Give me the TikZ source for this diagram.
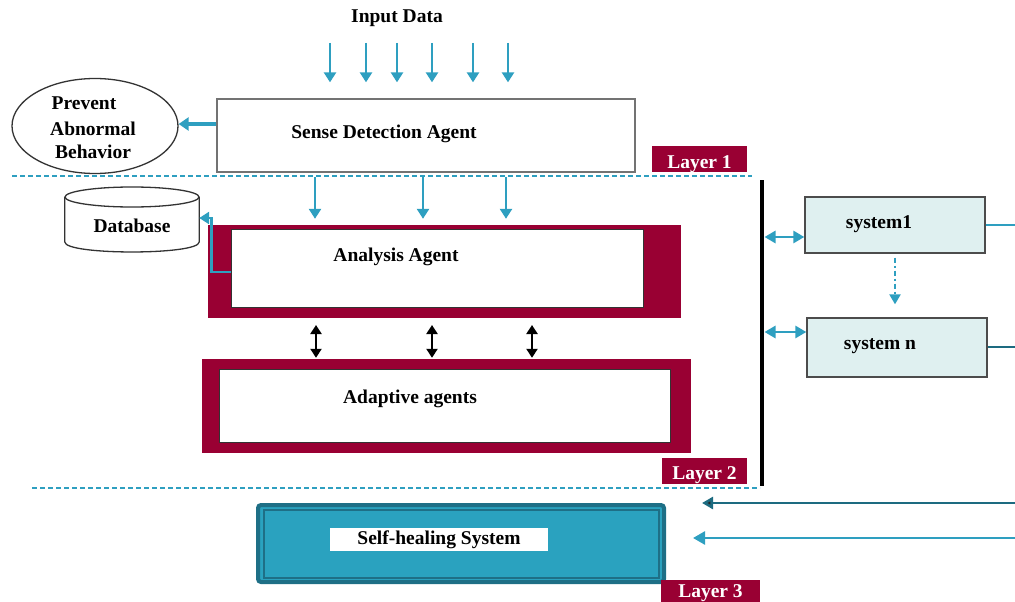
\documentclass[tikz,border=0pt]{standalone}
\usepackage{fontspec}
\setmainfont{Liberation Serif}
\usetikzlibrary{arrows.meta,shapes.geometric,calc}
\definecolor{flowteal}{HTML}{2E9FC0}
\definecolor{crim}{HTML}{990033}
\definecolor{healfill}{HTML}{2AA2BF}
\definecolor{healedge}{HTML}{1E6F86}
\definecolor{darkteal}{HTML}{1D6B80}
\definecolor{sysfill}{HTML}{DFF0F0}

\begin{document}
\begin{tikzpicture}[x=1pt,y=-1pt,
  txt/.style={font=\fontsize{19.5}{22}\selectfont\bfseries, inner sep=0pt},
  layertag/.style={fill=crim, text=white, inner sep=0pt, font=\fontsize{19.5}{22}\selectfont\bfseries, text depth=0pt},
  flow/.style={draw=flowteal, line width=2.5pt, -{Triangle[width=12pt,length=10pt]}},
  sideflow/.style={draw=flowteal, line width=3.2pt, -{Triangle[width=13pt,length=10pt]}},
  twoway/.style={draw=black, line width=2.2pt, {Triangle[width=11pt,length=9pt]}-{Triangle[width=11pt,length=9pt]}},
  busflow/.style={draw=flowteal, line width=2.8pt, {Triangle[width=12pt,length=11pt]}-{Triangle[width=12pt,length=11pt]}},
  sepline/.style={draw=flowteal, line width=1.8pt, dash pattern=on 5pt off 3pt},
  outerbox/.style={fill=crim, inner sep=0pt},
  innerbox/.style={fill=white, draw=black!80, line width=1pt, inner sep=0pt},
  sysbox/.style={fill=sysfill, draw=black!70, line width=1.3pt, inner sep=0pt, minimum width=180},
]
\useasboundingbox (0,0) rectangle (1015,602);

% ---------- Layer 1 ----------
\node[txt] (inlabel) at (397,18) {Input Data};
\node[draw=black!55, line width=1.3pt, minimum width=418, minimum height=73, inner sep=0pt] (sense) at (426,135.5) {};
\node[txt] (sensetxt) at (384,134) {Sense Detection Agent};
\foreach \x [count=\i] in {330,366,397,432,473,508} {
  \coordinate (in\i) at (\x,43);
  \draw[flow] (in\i) -- (sense.north -| in\i) [shorten >=16pt];
}
\node[ellipse, draw=black!80, line width=1.3pt, minimum width=166, minimum height=95, inner sep=0pt] (prevent) at (95,126) {};
\node[txt] (pv1) at (84,103) {Prevent};
\node[txt] (pv2) at (93,129) {Abnormal};
\node[txt] (pv3) at (93,152) {Behavior};
\draw[sideflow] (sense.west |- 0,124) -- (prevent.east |- 0,124);

\node[layertag, minimum width=95, minimum height=26, text height=19pt] (layer1) at (699.5,159) {Layer 1};
\coordinate (sepAL) at (12,176);
\coordinate (sepAR) at (752,176);
\draw[sepline] (sepAL) -- (sepAR);

% ---------- Layer 2 ----------
% database drum
\node[minimum width=134, minimum height=65, inner sep=0pt] (db) at (132,219) {};
\draw[black!80, line width=1.3pt, fill=white]
  (db.west |- 0,197) -- (db.west |- 0,242)
  .. controls (65,255.3) and (199,255.3) .. (db.east |- 0,242) -- (db.east |- 0,197);
\draw[black!80, line width=1.3pt, fill=white] (132,197) ellipse [x radius=67, y radius=10];
\node[txt] (dbtxt) at (132,226) {Database};

\node[outerbox, minimum width=473, minimum height=93] (aout) at (444,271.5) {};
\node[innerbox, minimum width=412, minimum height=78] (ain) at (437,268) {};
\node[txt] (aintxt) at (396,257) {Analysis Agent};

\foreach \x [count=\i] in {315,423,506} {
  \coordinate (sd\i) at (\x,177);
  \draw[flow] (sd\i) -- (aout.north -| sd\i) [shorten >=6pt];
}
\draw[draw=flowteal, line width=2.6pt, -{Triangle[width=12pt,length=10pt]}]
  (ain.west |- 0,272) -- ++(-19,0) |- (db.east |- 0,218);

\node[outerbox, minimum width=489, minimum height=94] (adout) at (446.5,406) {};
\node[innerbox, minimum width=451, minimum height=73] (adin) at (444.5,405.5) {};
\node[txt] (adtxt) at (410,399) {Adaptive agents};

\foreach \x [count=\i] in {316,432,532} {
  \coordinate (tw\i) at (\x,325);
  \draw[twoway] (tw\i) -- (adout.north -| tw\i) [shorten >=1pt];
}

\node[layertag, minimum width=85, minimum height=26, text height=16pt] (layer2) at (704.5,471) {Layer 2};
\coordinate (sepBL) at (32,488);
\coordinate (sepBR) at (760,488);
\draw[sepline] (sepBL) -- (sepBR);

% ---------- bus and systems ----------
\coordinate (busT) at (762,180);
\coordinate (busB) at (762,486);
\draw[black, line width=3.5pt] (busT) -- (busB);

\node[sysbox, minimum height=56] (sys1) at (895,225) {};
\node[txt] (sys1txt) at (879,224) {system1};
\node[sysbox, minimum height=59] (sysn) at (897,347.5) {};
\node[txt] (sysntxt) at (880,346) {system n};

\draw[busflow] (busT |- 0,237) -- (sys1.west |- 0,237) [shorten <=2.5pt];
\draw[busflow] (busT |- 0,332) -- (sysn.west |- 0,332) [shorten <=2.5pt];
\draw[draw=flowteal, line width=2.2pt, dash pattern=on 5pt off 3pt on 2pt off 3pt,
      -{Triangle[width=11pt,length=10pt]}]
  (sys1.south) ++(0,4) -- (sysn.north -| sys1.south) [shorten >=13pt];

\coordinate (out1) at (1015,225);
\coordinate (outn) at (1015,347);
\draw[draw=flowteal, line width=2.2pt] (sys1.east |- out1) -- (out1);
\draw[draw=darkteal, line width=2.2pt] (sysn.east |- outn) -- (outn);

% ---------- Layer 3 ----------
\node[fill=healfill, draw=healedge, line width=4pt, rounded corners=3pt,
      minimum width=406, minimum height=77, inner sep=0pt] (heal) at (461,543.5) {};
\node[draw=healedge, line width=1.2pt, minimum width=395, minimum height=68, inner sep=0pt] (healin) at (461.5,544) {};
\node[fill=white, minimum width=218, minimum height=23, inner sep=0pt,
      font=\fontsize{19.5}{22}\selectfont\bfseries] (healtxt) at (439,539.5) {Self-healing System};

\coordinate (ret1) at (1015,503);
\coordinate (ret2) at (1015,538);
\draw[draw=darkteal, line width=2.6pt, -{Triangle[width=12pt,length=11pt,fill=black!85]}]
  (ret1) -- (heal.east |- ret1) [shorten >=36pt];
\draw[draw=flowteal, line width=2.6pt, -{Triangle[width=13pt,length=12pt]}]
  (ret2) -- (heal.east |- ret2) [shorten >=27pt];

\node[layertag, minimum width=99, minimum height=24, text height=10pt] (layer3) at (710.5,592) {Layer 3};
\end{tikzpicture}
\end{document}
